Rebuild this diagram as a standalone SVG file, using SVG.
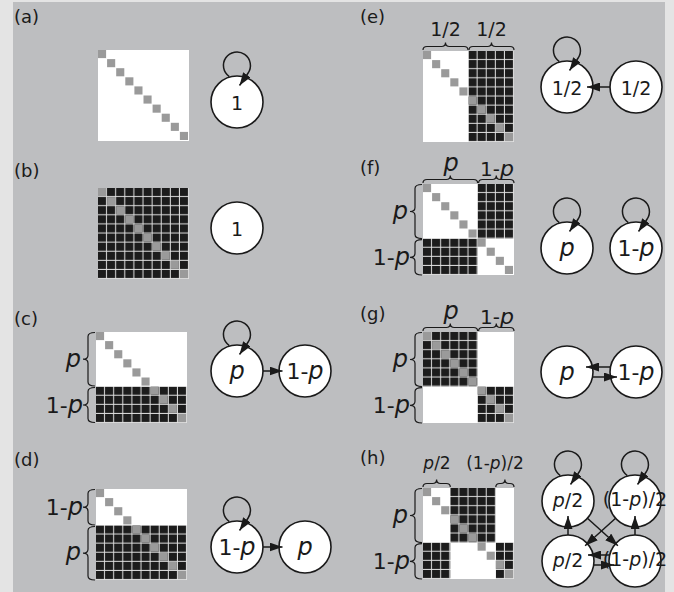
<svg xmlns="http://www.w3.org/2000/svg" xmlns:xlink="http://www.w3.org/1999/xlink" width="674" height="592" viewBox="0 0 674 592">
  <style>
    .t { font-family: "DejaVu Sans", "Liberation Sans", sans-serif; fill: #1a1a1a; }
    .lbl { font-size: 18px; }
    .num { font-size: 19px; text-anchor: middle; }
    .end { text-anchor: end; }
    .mid { text-anchor: middle; }
    .i { font-style: italic; }
    .q { font-size: 22px; }
    .q .i { font-size: 24px; }
    .node { fill: #fff; stroke: #1a1a1a; stroke-width: 1.6; }
    .edge { fill: none; stroke: #1a1a1a; stroke-width: 1.5; marker-end: url(#ah); }
    .brace { fill: none; stroke: #1a1a1a; stroke-width: 1.2; }
    .dg { fill: #9a9a9a; }
  </style>
  <defs>
    <marker id="ah" markerUnits="userSpaceOnUse" viewBox="0 0 13 9" markerWidth="13" markerHeight="9" refX="13" refY="4.5" orient="auto">
      <path d="M0,0 L13,4.5 L0,9 z" fill="#1a1a1a"/>
    </marker>
    <!-- black cells with light grid gaps, tile = one matrix cell -->
    <pattern id="blk" patternUnits="userSpaceOnUse" width="9.1" height="9.1">
      <rect width="9.1" height="9.1" fill="#e0e0e0"/>
      <rect width="8.1" height="8.1" fill="#1c1c1c"/>
    </pattern>
    <!-- grey diagonal of a 10x10 matrix -->
    <g id="diag">
      <rect class="dg" x="0" y="0" width="8.1" height="8.1"/>
      <rect class="dg" x="9.1" y="9.1" width="8.1" height="8.1"/>
      <rect class="dg" x="18.2" y="18.2" width="8.1" height="8.1"/>
      <rect class="dg" x="27.3" y="27.3" width="8.1" height="8.1"/>
      <rect class="dg" x="36.4" y="36.4" width="8.1" height="8.1"/>
      <rect class="dg" x="45.5" y="45.5" width="8.1" height="8.1"/>
      <rect class="dg" x="54.6" y="54.6" width="8.1" height="8.1"/>
      <rect class="dg" x="63.7" y="63.7" width="8.1" height="8.1"/>
      <rect class="dg" x="72.8" y="72.8" width="8.1" height="8.1"/>
      <rect class="dg" x="81.9" y="81.9" width="8.1" height="8.1"/>
    </g>
    <rect id="mbg" width="91" height="91" fill="#fff"/>
  </defs>

  <!-- backdrop -->
  <rect width="674" height="592" fill="#e4e4e4"/>
  <rect x="13" y="2" width="652" height="590" fill="#bdbec0"/>

  <!-- panel labels -->
  <g id="labels" class="t lbl">
    <text x="14" y="22.5">(a)</text>
    <text x="14" y="177">(b)</text>
    <text x="14" y="325">(c)</text>
    <text x="14" y="465.5">(d)</text>
    <text x="360" y="23">(e)</text>
    <text x="360" y="174">(f)</text>
    <text x="360" y="320">(g)</text>
    <text x="360" y="464">(h)</text>
  </g>

  <!-- adjacency matrices -->
  <g id="mat-a" transform="translate(98,50)">
    <use xlink:href="#mbg"/><use xlink:href="#diag"/>
  </g>
  <g id="mat-b" transform="translate(98,188)">
    <use xlink:href="#mbg"/>
    <rect width="91" height="91" fill="url(#blk)"/>
    <use xlink:href="#diag"/>
  </g>
  <g id="mat-c" transform="translate(96,332)">
    <use xlink:href="#mbg"/>
    <rect y="54.6" width="91" height="36.4" fill="url(#blk)"/>
    <use xlink:href="#diag"/>
  </g>
  <g id="mat-d" transform="translate(96,489)">
    <use xlink:href="#mbg"/>
    <rect y="36.4" width="91" height="54.6" fill="url(#blk)"/>
    <use xlink:href="#diag"/>
  </g>
  <g id="mat-e" transform="translate(423,51)">
    <use xlink:href="#mbg"/>
    <rect x="45.5" width="45.5" height="91" fill="url(#blk)"/>
    <use xlink:href="#diag"/>
  </g>
  <g id="mat-f" transform="translate(423,184)">
    <use xlink:href="#mbg"/>
    <rect x="54.6" width="36.4" height="54.6" fill="url(#blk)"/>
    <rect y="54.6" width="54.6" height="36.4" fill="url(#blk)"/>
    <use xlink:href="#diag"/>
  </g>
  <g id="mat-g" transform="translate(423,332)">
    <use xlink:href="#mbg"/>
    <rect width="54.6" height="54.6" fill="url(#blk)"/>
    <rect x="54.6" y="54.6" width="36.4" height="36.4" fill="url(#blk)"/>
    <use xlink:href="#diag"/>
  </g>
  <g id="mat-h" transform="translate(423,488)">
    <use xlink:href="#mbg"/>
    <rect x="27.3" width="45.5" height="54.6" fill="url(#blk)"/>
    <rect y="54.6" width="27.3" height="36.4" fill="url(#blk)"/>
    <rect x="72.8" y="54.6" width="18.2" height="36.4" fill="url(#blk)"/>
    <use xlink:href="#diag"/>
  </g>

  <!-- block braces and their size labels -->
  <g id="braces" class="brace">
    <!-- (c) left -->
    <path d="M95,332.5 Q88,332.5 88,336.5 L88,355.2 Q88,359.2 83,359.2 Q88,359.2 88,363.2 L88,382 Q88,386 95,386"/>
    <path d="M95,387.5 Q88,387.5 88,391.5 L88,401 Q88,405 83,405 Q88,405 88,409 L88,418.5 Q88,422.5 95,422.5"/>
    <!-- (d) left -->
    <path d="M95,489.5 Q88,489.5 88,493.5 L88,503.2 Q88,507.2 83,507.2 Q88,507.2 88,511.2 L88,521 Q88,525 95,525"/>
    <path d="M95,526.5 Q88,526.5 88,530.5 L88,549.2 Q88,553.2 83,553.2 Q88,553.2 88,557.2 L88,576 Q88,580 95,580"/>
    <!-- (e) top -->
    <path d="M423,50 Q423,46.5 427,46.5 L441.5,46.5 Q445.5,46.5 445.5,42.5 Q445.5,46.5 449.5,46.5 L464,46.5 Q468,46.5 468,50"/>
    <path d="M469,50 Q469,46.5 473,46.5 L487.5,46.5 Q491.5,46.5 491.5,42.5 Q491.5,46.5 495.5,46.5 L510,46.5 Q514,46.5 514,50"/>
    <!-- (f) top and left -->
    <path d="M423,183 Q423,179.5 427,179.5 L446.3,179.5 Q450.3,179.5 450.3,175.5 Q450.3,179.5 454.3,179.5 L473.6,179.5 Q477.6,179.5 477.6,183"/>
    <path d="M478.6,183 Q478.6,179.5 482.6,179.5 L492.3,179.5 Q496.3,179.5 496.3,175.5 Q496.3,179.5 500.3,179.5 L510,179.5 Q514,179.5 514,183"/>
    <path d="M422,184.5 Q415,184.5 415,188.5 L415,207.5 Q415,211.5 410,211.5 Q415,211.5 415,215.5 L415,234.6 Q415,238.6 422,238.6"/>
    <path d="M422,239.6 Q415,239.6 415,243.6 L415,253.3 Q415,257.3 410,257.3 Q415,257.3 415,261.3 L415,271 Q415,275 422,275"/>
    <!-- (g) top and left -->
    <path d="M423,331 Q423,327.5 427,327.5 L446.3,327.5 Q450.3,327.5 450.3,323.5 Q450.3,327.5 454.3,327.5 L473.6,327.5 Q477.6,327.5 477.6,331"/>
    <path d="M478.6,331 Q478.6,327.5 482.6,327.5 L492.3,327.5 Q496.3,327.5 496.3,323.5 Q496.3,327.5 500.3,327.5 L510,327.5 Q514,327.5 514,331"/>
    <path d="M422,332.5 Q415,332.5 415,336.5 L415,355.5 Q415,359.5 410,359.5 Q415,359.5 415,363.5 L415,382.6 Q415,386.6 422,386.6"/>
    <path d="M422,387.6 Q415,387.6 415,391.6 L415,401.3 Q415,405.3 410,405.3 Q415,405.3 415,409.3 L415,419 Q415,423 422,423"/>
    <!-- (h) top and left -->
    <path d="M423,487 Q423,483.5 427,483.5 L432.6,483.5 Q436.6,483.5 436.6,479.5 Q436.6,483.5 440.6,483.5 L446.3,483.5 Q450.3,483.5 450.3,487"/>
    <path d="M495.8,487 Q495.8,483.5 499.8,483.5 L500.9,483.5 Q504.9,483.5 504.9,479.5 Q504.9,483.5 508.9,483.5 L510,483.5 Q514,483.5 514,487"/>
    <path d="M422,488.5 Q415,488.5 415,492.5 L415,511.5 Q415,515.5 410,515.5 Q415,515.5 415,519.5 L415,538.6 Q415,542.6 422,542.6"/>
    <path d="M422,543.6 Q415,543.6 415,547.6 L415,557.3 Q415,561.3 410,561.3 Q415,561.3 415,565.3 L415,575 Q415,579 422,579"/>
  </g>
  <g id="brace-labels" class="t" font-size="20">
    <text class="end" x="81" y="367"><tspan class="i" font-size="24">p</tspan></text>
    <text class="end q" x="83" y="413">1-<tspan class="i">p</tspan></text>
    <text class="end q" x="83" y="515">1-<tspan class="i">p</tspan></text>
    <text class="end" x="81" y="560"><tspan class="i" font-size="24">p</tspan></text>
    <text class="mid" x="445.5" y="36" font-size="19">1/2</text>
    <text class="mid" x="491.5" y="36" font-size="19">1/2</text>
    <text class="mid" x="451" y="171"><tspan class="i" font-size="24">p</tspan></text>
    <text class="mid" x="497" y="176" font-size="20">1-<tspan class="i" font-size="22">p</tspan></text>
    <text class="end" x="408" y="219"><tspan class="i" font-size="24">p</tspan></text>
    <text class="end q" x="410" y="265">1-<tspan class="i">p</tspan></text>
    <text class="mid" x="451" y="319"><tspan class="i" font-size="24">p</tspan></text>
    <text class="mid" x="497" y="324" font-size="20">1-<tspan class="i" font-size="22">p</tspan></text>
    <text class="end" x="408" y="367"><tspan class="i" font-size="24">p</tspan></text>
    <text class="end q" x="410" y="413">1-<tspan class="i">p</tspan></text>
    <text class="mid" x="437" y="469" font-size="17"><tspan class="i">p</tspan>/2</text>
    <text class="mid" x="495" y="469" font-size="17">(1-<tspan class="i">p</tspan>)/2</text>
    <text class="end" x="408" y="523"><tspan class="i" font-size="24">p</tspan></text>
    <text class="end q" x="410" y="569">1-<tspan class="i">p</tspan></text>
  </g>

  <!-- graph nodes -->
  <g id="a-1"><circle class="node" cx="237" cy="102" r="26"/><text class="t num" x="237" y="110" font-size="19">1</text></g>
  <g id="b-1"><circle class="node" cx="237" cy="228" r="26"/><text class="t num" x="237" y="236" font-size="19">1</text></g>
  <g id="c-p"><circle class="node" cx="237" cy="371" r="26"/><text class="t num" x="237" y="379"><tspan class="i" font-size="24">p</tspan></text></g>
  <g id="c-q"><circle class="node" cx="305" cy="371" r="26"/><text class="t num q" x="305" y="379">1-<tspan class="i">p</tspan></text></g>
  <g id="d-q"><circle class="node" cx="237" cy="547" r="26"/><text class="t num q" x="237" y="555">1-<tspan class="i">p</tspan></text></g>
  <g id="d-p"><circle class="node" cx="305" cy="547" r="26"/><text class="t num" x="305" y="555"><tspan class="i" font-size="24">p</tspan></text></g>
  <g id="e-1"><circle class="node" cx="567" cy="87" r="26"/><text class="t num" x="567" y="95" font-size="20">1/2</text></g>
  <g id="e-2"><circle class="node" cx="636" cy="87" r="26"/><text class="t num" x="636" y="95" font-size="20">1/2</text></g>
  <g id="f-p"><circle class="node" cx="567" cy="248" r="26"/><text class="t num" x="567" y="256"><tspan class="i" font-size="24">p</tspan></text></g>
  <g id="f-q"><circle class="node" cx="636" cy="248" r="26"/><text class="t num q" x="636" y="256">1-<tspan class="i">p</tspan></text></g>
  <g id="g-p"><circle class="node" cx="567" cy="372" r="26"/><text class="t num" x="567" y="380"><tspan class="i" font-size="24">p</tspan></text></g>
  <g id="g-q"><circle class="node" cx="636" cy="372" r="26"/><text class="t num q" x="636" y="380">1-<tspan class="i">p</tspan></text></g>
  <g id="h-a"><circle class="node" cx="568" cy="501" r="26"/><text class="t num" x="568" y="507" font-size="17"><tspan class="i">p</tspan>/2</text></g>
  <g id="h-c"><circle class="node" cx="635" cy="501" r="26"/><text class="t num" x="635" y="506" font-size="14">(1-<tspan class="i">p</tspan>)/2</text></g>
  <g id="h-b"><circle class="node" cx="568" cy="561" r="26"/><text class="t num" x="568" y="567" font-size="17"><tspan class="i">p</tspan>/2</text></g>
  <g id="h-d"><circle class="node" cx="635" cy="561" r="26"/><text class="t num" x="635" y="566" font-size="14">(1-<tspan class="i">p</tspan>)/2</text></g>

  <!-- connectors -->
  <g id="edges">
    <path class="edge" d="M229.3,76.6 A13.5,13.5 0 1 1 248,73.2 L239.5,85.5"/>
    <path class="edge" d="M229.3,345.6 A13.5,13.5 0 1 1 248,342.2 L239.5,354.5"/>
    <path class="edge" d="M263,371 L282.5,371"/>
    <path class="edge" d="M229.3,521.6 A13.5,13.5 0 1 1 248,518.2 L239.5,530.5"/>
    <path class="edge" d="M263,547 L282.5,547"/>
    <path class="edge" d="M559.3,61.6 A13.5,13.5 0 1 1 578,58.2 L569.5,70.5"/>
    <path class="edge" d="M610,87 L587,87"/>
    <path class="edge" d="M559.3,222.6 A13.5,13.5 0 1 1 578,219.2 L569.5,231.5"/>
    <path class="edge" d="M628.3,222.6 A13.5,13.5 0 1 1 647,219.2 L638.5,231.5"/>
    <path class="edge" d="M610,367 L586,367"/>
    <path class="edge" d="M593,377 L617,377"/>
    <path class="edge" d="M560.3,475.6 A13.5,13.5 0 1 1 579,472.2 L570.5,484.5"/>
    <path class="edge" d="M627.3,475.6 A13.5,13.5 0 1 1 646,472.2 L637.5,484.5"/>
    <path class="edge" d="M568,535 L568,516"/>
    <path class="edge" d="M635,535 L635,516"/>
    <path class="edge" d="M587.4,518.3 L617.9,545.7"/>
    <path class="edge" d="M615.6,518.3 L585.1,545.7"/>
    <path class="edge" d="M609.7,555 L588,555"/>
    <path class="edge" d="M593.7,565 L614,565"/>
  </g>
</svg>
